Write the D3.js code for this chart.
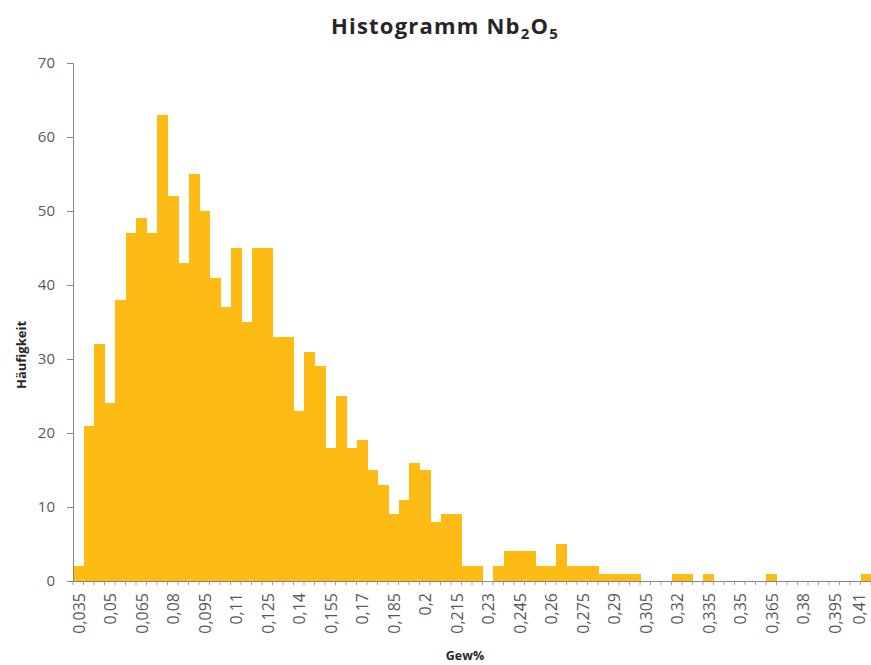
<!DOCTYPE html>
<html>
<head>
<meta charset="utf-8">
<script src="https://cdn.jsdelivr.net/npm/d3@7"></script>
<style>
  html, body { margin: 0; padding: 0; background: #fff; }
  svg { display: block; }
</style>
</head>
<body>
<svg id="chart" width="871" height="665"></svg>
<script>
// Bin labels (Gew%), one per 0.005 bin
const categories = [
  "0,035","0,04","0,045","0,05","0,055","0,06","0,065","0,07","0,075","0,08",
  "0,085","0,09","0,095","0,1","0,105","0,11","0,115","0,12","0,125","0,13",
  "0,135","0,14","0,145","0,15","0,155","0,16","0,165","0,17","0,175","0,18",
  "0,185","0,19","0,195","0,2","0,205","0,21","0,215","0,22","0,225","0,23",
  "0,235","0,24","0,245","0,25","0,255","0,26","0,265","0,27","0,275","0,28",
  "0,285","0,29","0,295","0,3","0,305","0,31","0,315","0,32","0,325","0,33",
  "0,335","0,34","0,345","0,35","0,355","0,36","0,365","0,37","0,375","0,38",
  "0,385","0,39","0,395","0,4","0,405","0,41"
];
// Häufigkeit (counts)
const counts = [
  2,21,32,24,38,47,49,47,63,52,
  43,55,50,41,37,45,35,45,45,33,
  33,23,31,29,18,25,18,19,15,13,
  9,11,16,15,8,9,9,2,2,0,
  2,4,4,4,2,2,5,2,2,2,
  1,1,1,1,0,0,0,1,1,0,
  1,0,0,0,0,0,1,0,0,0,
  0,0,0,0,0,1
];
// Labelled categories on the x axis (every third bin)
const xTickLabels = categories.filter((d, i) => i % 3 === 0);
const yTicks = [0,10,20,30,40,50,60,70];

const titleMain = "Histogramm Nb";
const xTitle = "Gew%";
const yTitle = "Häufigkeit";

const svg = d3.select("#chart");
const font = "'Open Sans', sans-serif";
const axisColor = "#868686";
const textColor = "#595959";
const barColor = "#FDBB13";

const x = d3.scaleBand().domain(categories).range([73, 871]).paddingInner(0).paddingOuter(0);
const y = d3.scaleLinear().domain([0, 70]).range([581, 63]);

// Bars
svg.append("g").attr("shape-rendering", "crispEdges").selectAll("rect")
  .data(categories.map((c, i) => ({c, v: counts[i]})))
  .join("rect")
  .attr("x", d => x(d.c))
  .attr("width", x.bandwidth() + 0.6)
  .attr("y", d => y(d.v))
  .attr("height", d => y(0) - y(d.v))
  .attr("fill", barColor);

// Y axis
const yAxis = d3.axisLeft(y).tickValues(yTicks).tickSize(6).tickPadding(12);
const gy = svg.append("g").attr("transform", "translate(73,0)").call(yAxis);
gy.select(".domain").attr("stroke", axisColor);
gy.selectAll(".tick line").attr("stroke", axisColor);
gy.selectAll(".tick text").attr("fill", textColor).style("font-family", font).style("font-size", "15px");

// X axis: minor ticks at each bin boundary
const bounds = categories.map(c => x(c)).concat([x.range()[1]]);
svg.append("g").selectAll("line").data(bounds).join("line")
  .attr("x1", d => d).attr("x2", d => d)
  .attr("y1", y(0)).attr("y2", y(0) + 4)
  .attr("stroke", axisColor).attr("stroke-width", 0.8);
svg.append("line")
  .attr("x1", x.range()[0]).attr("x2", x.range()[1])
  .attr("y1", y(0) + 0.5).attr("y2", y(0) + 0.5)
  .attr("stroke", axisColor);

// X tick labels (rotated)
svg.append("g").selectAll("text").data(xTickLabels).join("text")
  .attr("transform", d => `translate(${Math.min(x(d) + x.bandwidth() / 2 + 1, 859)},593) rotate(-90)`)
  .attr("dy", "0.35em")
  .attr("text-anchor", "end")
  .attr("fill", textColor)
  .style("font-family", font)
  .style("font-size", "16px")
  .text(d => d);

// Title
const t = svg.append("text")
  .attr("x", 445).attr("y", 34)
  .attr("text-anchor", "middle")
  .attr("fill", "#262626")
  .style("font-family", font)
  .style("font-size", "22px")
  .style("letter-spacing", "1.2px")
  .style("font-weight", "bold");
t.append("tspan").text(titleMain);
t.append("tspan").attr("dy", 5).style("font-size", "15px").text("2");
t.append("tspan").attr("dy", -5).text("O");
t.append("tspan").attr("dy", 5).style("font-size", "15px").text("5");

// Axis titles
svg.append("text")
  .attr("x", 465).attr("y", 660)
  .attr("text-anchor", "middle")
  .attr("fill", "#262626")
  .style("font-family", font).style("font-size", "12.5px").style("font-weight", "bold")
  .text(xTitle);

svg.append("text")
  .attr("transform", "translate(26,355) rotate(-90)")
  .attr("text-anchor", "middle")
  .attr("fill", "#262626")
  .style("font-family", font).style("font-size", "13px").style("font-weight", "bold")
  .text(yTitle);
</script>
</body>
</html>
